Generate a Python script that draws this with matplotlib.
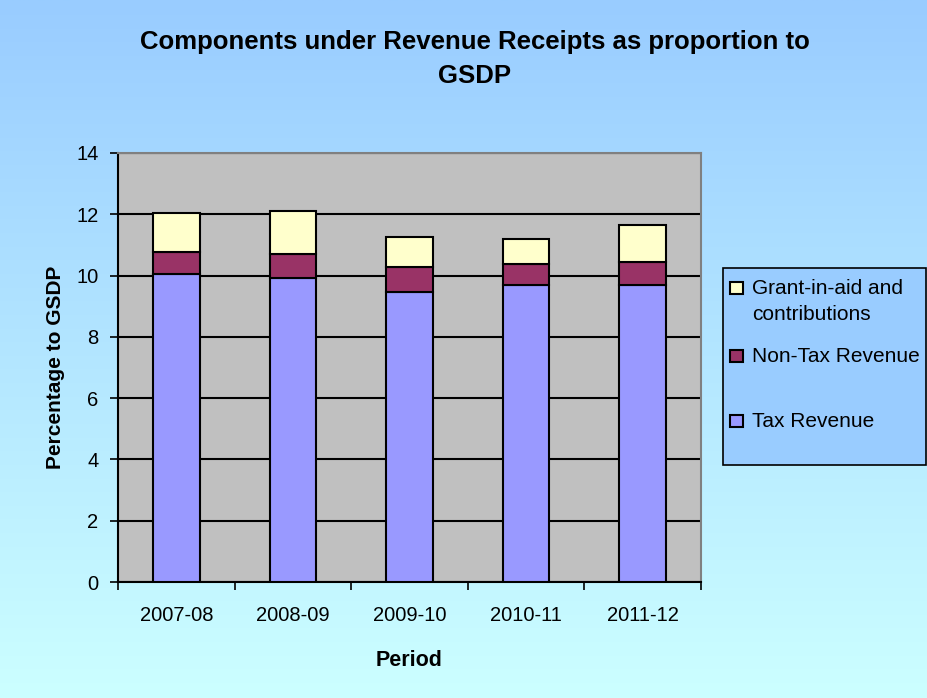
import numpy as np
import matplotlib.pyplot as plt
from matplotlib.patches import Rectangle

# values (percentage to GSDP)
periods = ["2007-08", "2008-09", "2009-10", "2010-11", "2011-12"]
tax_revenue = [10.05, 9.93, 9.47, 9.68, 9.68]
non_tax_revenue = [0.73, 0.78, 0.80, 0.71, 0.77]
grant_in_aid = [1.25, 1.39, 0.98, 0.79, 1.19]

series_labels = ["Grant-in-aid and\ncontributions", "Non-Tax Revenue", "Tax Revenue"]
series_colors = ["#FFFFCC", "#993366", "#9999FF"]

plt.rcParams["font.family"] = ["Liberation Sans", "DejaVu Sans"]

W, H = 927, 698
fig = plt.figure(figsize=(W / 100, H / 100), dpi=100)

# chart background: vertical gradient light blue -> light cyan
bg = fig.add_axes([0, 0, 1, 1], zorder=-10)
top = np.array([0x99, 0xCC, 0xFF]) / 255
bottom = np.array([0xCC, 0xFF, 0xFF]) / 255
t = np.linspace(0, 1, 256)[:, None, None]
grad = top * (1 - t) + bottom * t
grad = np.repeat(grad, 2, axis=1)
bg.imshow(grad, aspect="auto", extent=[0, 1, 0, 1], origin="upper")
bg.set_axis_off()

ax = fig.add_axes([118 / W, 1 - 582 / H, 583 / W, 429 / H])
ax.set_facecolor("#C0C0C0")

x = np.arange(len(periods))
width = 0.40
tax = np.array(tax_revenue)
non_tax = np.array(non_tax_revenue)
grant = np.array(grant_in_aid)

ax.bar(x, tax, width, color=series_colors[2], edgecolor="black", linewidth=1.5, zorder=3)
ax.bar(x, non_tax, width, bottom=tax, color=series_colors[1], edgecolor="black",
       linewidth=1.5, zorder=3)
ax.bar(x, grant, width, bottom=tax + non_tax, color=series_colors[0], edgecolor="black",
       linewidth=1.5, zorder=3)

ax.set_xlim(-0.5, len(periods) - 0.5)
ax.set_ylim(0, 14)
ax.set_yticks(range(0, 15, 2))
ax.yaxis.grid(True, color="black", linewidth=1.5, zorder=1)
ax.set_axisbelow(True)

ax.set_xticks(x)
ax.set_xticklabels(periods, fontsize=14.5)
ax.set_xticks(np.arange(-0.5, len(periods)), minor=True)
ax.tick_params(axis="x", which="major", length=0, pad=17)
ax.tick_params(axis="x", which="minor", length=6, width=1.2, direction="out")
ax.tick_params(axis="y", length=6, width=1.2, direction="out", labelsize=14.5, pad=8)

for side in ("left", "bottom"):
    ax.spines[side].set_color("black")
    ax.spines[side].set_linewidth(1.5)
for side in ("top", "right"):
    ax.spines[side].set_color("#808080")
    ax.spines[side].set_linewidth(1.5)

ax.set_xlabel("Period", fontsize=15.5, fontweight="bold", labelpad=18)
ax.set_ylabel("Percentage to GSDP", fontsize=15, fontweight="bold", labelpad=8)

fig.text(0.512, 1 - 42 / H, "Components under Revenue Receipts as proportion to",
         ha="center", va="center", fontsize=18.5, fontweight="bold")
fig.text(0.512, 1 - 76 / H, "GSDP", ha="center", va="center", fontsize=18.5,
         fontweight="bold")

# legend box drawn like the spreadsheet legend
fig.patches.append(Rectangle((723 / W, 1 - 465 / H), 203 / W, 197 / H,
                             transform=fig.transFigure, facecolor="#99CCFF",
                             edgecolor="black", linewidth=1.2, zorder=5))
entry_y = [288, 356, 421]
for label, color, yy in zip(series_labels, series_colors, entry_y):
    fig.patches.append(Rectangle((730 / W, 1 - (yy + 6) / H), 13 / W, 12 / H,
                                 transform=fig.transFigure, facecolor=color,
                                 edgecolor="black", linewidth=1.5, zorder=6))
    fig.text(752 / W, 1 - (yy - 9) / H, label, ha="left", va="top", fontsize=15,
             linespacing=1.5, zorder=7)

fig.savefig("out.png", dpi=100)
